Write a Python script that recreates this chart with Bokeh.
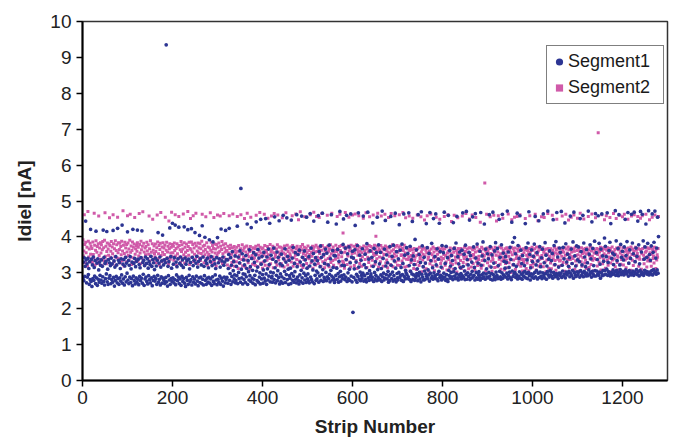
from bokeh.plotting import figure
from bokeh.models import FixedTicker, Legend, LegendItem
from bokeh.embed import file_html
from bokeh.resources import INLINE

# Leakage current per strip, in units of 0.01 nA (one row = 20 consecutive strips)
seg1_centi_nA = [
    285, 330, 278, 342, 290, 318, 444, 336, 272, 325, 288, 340, 295, 312, 268, 331, 281, 421, 276, 338,
    262, 322, 284, 344, 279, 315, 291, 334, 270, 416, 286, 327, 265, 339, 282, 308, 274, 330, 293, 321,
    280, 336, 271, 318, 289, 419, 276, 343, 266, 326, 284, 332, 297, 415, 275, 310, 268, 337, 285, 328,
    292, 320, 270, 341, 281, 325, 274, 418, 287, 333, 263, 316, 279, 345, 290, 322, 272, 424, 284, 335,
    268, 329, 286, 312, 277, 339, 294, 433, 271, 324, 283, 337, 266, 319, 289, 343, 275, 327, 299, 414,
    280, 334, 270, 321, 288, 345, 273, 311, 284, 330, 264, 421, 291, 326, 278, 340, 269, 317, 286, 332,
    274, 419, 282, 338, 267, 323, 290, 314, 278, 342, 285, 417, 271, 329, 296, 335, 265, 320, 283, 344,
    288, 326, 276, 339, 269, 313, 292, 331, 281, 323, 272, 346, 286, 318, 264, 337, 279, 328, 290, 309,
    277, 341, 284, 319, 268, 335, 293, 412, 274, 327, 282, 344, 266, 316, 289, 333, 271, 405, 285, 322,
    279, 336, 270, 328, 287, 935, 275, 340, 263, 318, 292, 331, 280, 425, 268, 345, 284, 313, 276, 438,
    286, 324, 272, 342, 281, 433, 267, 330, 294, 317, 278, 339, 288, 427, 270, 326, 283, 344, 265, 321,
    290, 336, 276, 315, 284, 428, 271, 341, 262, 324, 287, 333, 279, 420, 268, 338, 293, 311, 275, 329,
    281, 423, 266, 343, 289, 320, 274, 335, 283, 412, 269, 327, 291, 346, 277, 316, 264, 332, 286, 404,
    273, 339, 288, 322, 270, 431, 282, 344, 266, 318, 292, 399, 279, 334, 268, 326, 285, 341, 274, 314,
    287, 392, 271, 331, 283, 345, 265, 320, 289, 386, 276, 337, 270, 325, 294, 312, 280, 342, 267, 398,
    282, 328, 274, 339, 291, 316, 268, 422, 285, 333, 277, 344, 263, 321, 288, 330, 272, 418, 281, 337,
    287, 336, 271, 312, 351, 424, 279, 298, 342, 268, 321, 290, 359, 275, 306, 331, 283, 294, 347, 272,
    278, 318, 292, 430, 270, 344, 301, 284, 328, 361, 274, 535, 310, 286, 353, 269, 297, 336, 281, 322,
    296, 273, 348, 289, 312, 436, 268, 334, 303, 280, 364, 292, 317, 276, 426, 340, 285, 307, 271, 356,
    282, 329, 293, 267, 350, 442, 305, 278, 316, 365, 274, 341, 288, 300, 269, 449, 324, 283, 346, 295,
    271, 308, 357, 285, 333, 277, 451, 297, 268, 344, 311, 280, 366, 291, 323, 438, 275, 302, 349, 286,
    290, 274, 338, 300, 369, 281, 456, 314, 272, 331, 293, 358, 278, 306, 343, 287, 445, 269, 325, 297,
    276, 352, 289, 320, 271, 460, 339, 284, 304, 367, 273, 330, 295, 453, 281, 346, 310, 268, 335, 292,
    285, 313, 270, 447, 298, 341, 279, 371, 291, 274, 326, 303, 356, 282, 272, 462, 317, 288, 351, 278,
    269, 363, 294, 330, 276, 307, 458, 286, 343, 271, 322, 299, 361, 280, 336, 292, 273, 455, 313, 283,
    297, 277, 345, 272, 319, 465, 288, 369, 281, 333, 275, 308, 354, 444, 270, 324, 293, 342, 279, 305,
    283, 334, 300, 459, 274, 359, 291, 317, 375, 279, 343, 295, 466, 309, 276, 351, 287, 326, 282, 366,
    301, 278, 355, 289, 441, 322, 284, 377, 296, 275, 339, 307, 462, 291, 280, 362, 315, 286, 348, 273,
    279, 347, 293, 436, 313, 282, 365, 298, 274, 332, 289, 471, 304, 277, 357, 292, 321, 284, 379, 450,
    294, 320, 281, 369, 288, 337, 460, 276, 353, 300, 283, 372, 310, 279, 328, 464, 291, 344, 275, 360,
    190, 341, 287, 311, 364, 432, 280, 330, 296, 274, 376, 290, 467, 316, 282, 349, 302, 278, 335, 293,
    285, 367, 299, 458, 277, 323, 292, 352, 281, 314, 275, 381, 298, 469, 286, 338, 279, 306, 361, 290,
    297, 281, 343, 288, 439, 318, 276, 368, 301, 283, 331, 293, 356, 278, 455, 309, 287, 378, 280, 325,
    282, 357, 294, 312, 276, 472, 289, 340, 299, 280, 366, 285, 446, 319, 295, 350, 283, 328, 304, 274,
    291, 278, 373, 296, 457, 321, 284, 346, 302, 277, 377, 292, 333, 281, 466, 313, 275, 359, 298, 286,
    280, 339, 301, 434, 287, 363, 293, 315, 279, 380, 295, 326, 276, 464, 290, 349, 283, 307, 300, 370,
    295, 284, 354, 289, 467, 320, 281, 374, 304, 276, 336, 297, 443, 282, 347, 294, 323, 279, 393, 291,
    286, 364, 298, 311, 278, 462, 292, 351, 301, 283, 329, 275, 470, 296, 375, 288, 317, 280, 343, 305,
    281, 327, 297, 437, 290, 370, 284, 308, 294, 354, 277, 468, 299, 334, 285, 382, 291, 314, 282, 451,
    300, 285, 345, 292, 464, 322, 283, 367, 296, 278, 338, 304, 438, 287, 359, 293, 316, 280, 376, 289,
    284, 356, 299, 469, 288, 326, 279, 374, 295, 282, 342, 276, 460, 307, 292, 362, 285, 319, 301, 348,
    289, 334, 281, 440, 303, 368, 291, 312, 284, 383, 297, 457, 286, 345, 280, 325, 294, 358, 288, 314,
    298, 283, 363, 292, 467, 318, 287, 352, 305, 281, 377, 295, 471, 282, 337, 300, 322, 290, 357, 447,
    281, 348, 296, 285, 330, 304, 456, 288, 372, 293, 315, 280, 465, 341, 301, 286, 380, 282, 327, 295,
    303, 287, 360, 280, 468, 321, 294, 347, 285, 386, 299, 289, 436, 334, 282, 366, 297, 311, 288, 353,
    286, 339, 301, 462, 291, 373, 282, 316, 298, 350, 280, 469, 295, 327, 287, 361, 281, 384, 302, 290,
    293, 368, 284, 320, 286, 449, 304, 343, 289, 282, 378, 300, 463, 285, 355, 294, 332, 291, 313, 345,
    288, 329, 299, 472, 283, 358, 292, 315, 302, 371, 286, 337, 281, 441, 305, 385, 290, 323, 297, 398,
    301, 353, 287, 318, 294, 466, 283, 376, 290, 340, 303, 459, 285, 363, 296, 326, 282, 348, 300, 291,
    290, 320, 304, 437, 286, 370, 298, 336, 284, 383, 301, 470, 292, 351, 280, 314, 297, 364, 288, 331,
    296, 346, 285, 380, 301, 457, 289, 322, 306, 356, 283, 333, 299, 445, 287, 373, 302, 317, 291, 342,
    284, 366, 300, 464, 292, 328, 286, 384, 298, 349, 282, 319, 303, 472, 294, 338, 288, 361, 307, 293,
    302, 334, 290, 354, 285, 448, 301, 376, 295, 323, 289, 387, 298, 468, 292, 344, 284, 316, 299, 369,
    293, 357, 299, 471, 287, 321, 305, 371, 291, 339, 296, 439, 286, 381, 302, 330, 294, 352, 300, 318,
    304, 342, 289, 458, 298, 366, 292, 326, 307, 386, 285, 469, 301, 347, 294, 319, 290, 375, 303, 336,
    295, 372, 302, 331, 288, 451, 306, 359, 293, 322, 300, 460, 289, 383, 304, 344, 297, 317, 291, 365,
    299, 328, 292, 472, 308, 352, 295, 378, 301, 339, 288, 442, 304, 368, 296, 320, 291, 388, 306, 465,
    291, 356, 305, 337, 297, 459, 293, 382, 302, 324, 285, 366, 300, 464, 292, 347, 307, 332, 294, 397,
    306, 374, 296, 345, 310, 467, 293, 329, 303, 362, 298, 385, 291, 437, 301, 340, 295, 355, 308, 323,
    297, 350, 303, 473, 293, 389, 307, 334, 299, 368, 292, 462, 302, 322, 309, 379, 295, 343, 300, 360,
    304, 336, 294, 372, 301, 449, 308, 348, 297, 387, 303, 468, 291, 327, 306, 364, 299, 340, 294, 463,
    299, 383, 305, 353, 293, 469, 302, 331, 298, 369, 309, 346, 295, 444, 303, 378, 291, 325, 307, 471,
    295, 358, 301, 463, 298, 389, 293, 338, 307, 372, 300, 436, 304, 343, 296, 382, 302, 473, 294, 351,
    302, 335, 297, 375, 306, 464, 294, 357, 309, 385, 300, 472, 303, 341, 296, 369, 308, 455, 299, 401,
]

seg2_centi_nA = [
    392, 347, 361, 462, 379, 328, 385, 356, 339, 371, 318, 471, 388, 344, 366, 331, 382, 352, 374, 336,
    368, 329, 386, 351, 342, 466, 377, 322, 363, 389, 335, 357, 373, 326, 381, 458, 348, 369, 338, 384,
    355, 378, 321, 364, 387, 340, 370, 333, 391, 467, 346, 374, 325, 359, 383, 337, 366, 349, 380, 453,
    376, 343, 360, 387, 324, 372, 353, 462, 381, 331, 367, 345, 389, 320, 362, 378, 341, 455, 356, 384,
    339, 365, 382, 327, 373, 350, 388, 334, 361, 473, 377, 319, 354, 385, 344, 369, 330, 379, 358, 459,
    383, 348, 366, 336, 391, 463, 357, 375, 323, 362, 386, 342, 371, 329, 380, 454, 352, 367, 338, 376,
    360, 384, 332, 371, 347, 465, 379, 355, 325, 388, 364, 341, 374, 470, 335, 382, 358, 321, 369, 350,
    373, 326, 385, 361, 340, 378, 352, 458, 367, 333, 389, 346, 357, 318, 381, 449, 363, 337, 375, 354,
    345, 380, 359, 328, 370, 461, 386, 339, 353, 376, 322, 365, 382, 468, 348, 331, 372, 357, 384, 336,
    369, 351, 377, 455, 330, 363, 385, 342, 358, 374, 324, 444, 367, 381, 338, 355, 371, 469, 346, 379,
    356, 374, 335, 383, 362, 462, 347, 368, 320, 381, 353, 372, 339, 457, 376, 344, 364, 329, 387, 359,
    378, 340, 366, 464, 350, 384, 327, 371, 357, 345, 380, 336, 362, 471, 373, 349, 385, 323, 368, 451,
    364, 386, 343, 358, 379, 459, 331, 369, 352, 382, 337, 466, 375, 346, 361, 325, 383, 355, 370, 341,
    381, 334, 367, 354, 388, 463, 345, 374, 360, 328, 377, 350, 365, 456, 339, 384, 357, 321, 372, 347,
    352, 370, 338, 467, 363, 385, 329, 358, 376, 344, 368, 454, 333, 380, 355, 366, 319, 379, 348, 461,
    371, 356, 383, 332, 360, 458, 374, 340, 365, 387, 326, 353, 378, 465, 343, 369, 358, 381, 337, 362,
    361, 322, 374, 338, 355, 459, 368, 315, 377, 343, 352, 329, 370, 464, 358, 335, 373, 318, 364, 347,
    356, 331, 371, 457, 360, 312, 376, 340, 349, 326, 367, 462, 354, 337, 378, 319, 362, 344, 369, 451,
    372, 316, 358, 336, 375, 466, 351, 328, 366, 345, 359, 311, 373, 455, 363, 341, 348, 324, 370, 339,
    357, 342, 368, 320, 374, 460, 353, 333, 365, 317, 377, 349, 360, 468, 371, 327, 355, 344, 366, 313,
    369, 330, 352, 463, 376, 321, 362, 346, 357, 335, 373, 452, 350, 318, 367, 340, 379, 325, 359, 458,
    364, 338, 374, 314, 356, 465, 370, 343, 351, 329, 366, 321, 378, 461, 358, 336, 372, 347, 354, 319,
    371, 325, 361, 453, 368, 341, 355, 316, 375, 334, 352, 467, 364, 345, 377, 322, 359, 339, 369, 312,
    353, 346, 372, 330, 363, 459, 376, 318, 358, 342, 370, 327, 349, 464, 367, 337, 374, 323, 361, 448,
    366, 333, 357, 470, 373, 320, 364, 344, 379, 315, 354, 337, 371, 456, 360, 348, 368, 326, 356, 341,
    375, 317, 362, 339, 351, 462, 369, 328, 357, 346, 374, 313, 365, 469, 372, 335, 358, 322, 377, 457,
    359, 343, 371, 326, 366, 454, 354, 339, 373, 318, 363, 465, 376, 331, 352, 347, 369, 314, 361, 336,
    370, 324, 356, 460, 374, 340, 360, 317, 367, 345, 378, 329, 353, 466, 364, 334, 372, 321, 358, 349,
    363, 338, 377, 315, 359, 457, 368, 342, 350, 327, 373, 463, 362, 319, 376, 345, 355, 332, 411, 328,
    372, 313, 357, 468, 366, 336, 371, 323, 352, 347, 375, 455, 361, 330, 368, 316, 377, 343, 354, 461,
    360, 341, 374, 320, 355, 464, 369, 334, 378, 312, 364, 349, 357, 459, 372, 326, 361, 338, 370, 318,
    356, 345, 368, 452, 375, 322, 362, 337, 353, 467, 371, 315, 366, 343, 358, 329, 376, 456, 363, 340,
    373, 319, 359, 335, 369, 461, 354, 348, 377, 324, 365, 402, 351, 339, 374, 466, 360, 316, 367, 344,
    362, 331, 376, 458, 357, 342, 370, 318, 366, 350, 352, 463, 375, 327, 363, 336, 371, 314, 358, 454,
    369, 346, 355, 323, 374, 465, 361, 339, 378, 317, 364, 344, 353, 459, 372, 330, 359, 347, 376, 321,
    357, 335, 371, 462, 363, 320, 375, 348, 350, 333, 368, 468, 362, 341, 377, 316, 355, 453, 370, 338,
    351, 318, 366, 337, 345, 458, 362, 305, 370, 329, 348, 342, 364, 452, 355, 312, 368, 334, 343, 323,
    362, 309, 349, 461, 367, 331, 353, 320, 371, 340, 346, 456, 358, 303, 365, 336, 352, 316, 369, 447,
    347, 327, 363, 311, 356, 459, 370, 338, 344, 304, 361, 325, 354, 464, 366, 333, 350, 319, 372, 341,
    358, 306, 368, 332, 346, 455, 363, 318, 352, 339, 369, 301, 357, 449, 365, 326, 343, 335, 371, 313,
    364, 340, 351, 457, 367, 321, 348, 330, 372, 308, 355, 462, 360, 337, 345, 315, 369, 328, 353, 443,
    349, 323, 366, 310, 357, 460, 370, 336, 344, 327, 362, 302, 354, 453, 368, 341, 350, 317, 364, 334,
    368, 312, 352, 458, 363, 329, 347, 339, 371, 305, 359, 465, 345, 324, 366, 336, 356, 311, 370, 450,
    355, 338, 369, 316, 348, 461, 364, 326, 351, 342, 367, 307, 358, 454, 343, 331, 372, 320, 361, 337,
    346, 325, 365, 441, 359, 313, 371, 334, 352, 321, 366, 339, 348, 550, 363, 306, 357, 463, 369, 328,
    361, 341, 350, 319, 368, 456, 354, 332, 370, 304, 345, 337, 364, 460, 357, 315, 371, 329, 349, 444,
    366, 317, 358, 459, 347, 338, 372, 324, 353, 310, 369, 333, 344, 452, 362, 340, 356, 308, 367, 326,
    352, 335, 370, 314, 363, 464, 346, 328, 365, 339, 357, 301, 371, 448, 350, 322, 368, 336, 359, 455,
    369, 309, 355, 340, 348, 457, 366, 323, 360, 331, 372, 462, 345, 318, 364, 337, 351, 305, 367, 329,
    356, 337, 364, 451, 370, 312, 349, 327, 362, 343, 353, 306, 368, 459, 358, 320, 346, 334, 371, 316,
    363, 326, 347, 341, 367, 463, 355, 308, 372, 332, 350, 445, 361, 319, 369, 338, 344, 324, 365, 456,
    348, 340, 370, 317, 357, 454, 364, 330, 353, 303, 366, 336, 351, 465, 368, 313, 359, 342, 346, 327,
    367, 311, 354, 460, 362, 339, 349, 322, 371, 334, 356, 307, 365, 449, 352, 338, 369, 318, 358, 333,
    353, 336, 368, 320, 346, 458, 363, 329, 357, 341, 370, 304, 349, 463, 366, 325, 355, 337, 372, 447,
    364, 314, 351, 337, 369, 455, 358, 326, 345, 340, 367, 461, 360, 310, 371, 333, 348, 321, 362, 452,
    350, 339, 366, 305, 359, 466, 347, 331, 370, 318, 354, 342, 365, 450, 357, 327, 368, 336, 352, 312,
    369, 328, 356, 457, 364, 315, 348, 339, 372, 323, 361, 464, 346, 335, 367, 306, 355, 340, 363, 453,
    354, 337, 368, 319, 351, 690, 365, 330, 358, 342, 371, 308, 347, 462, 362, 325, 369, 338, 353, 448,
    366, 313, 349, 459, 363, 334, 370, 321, 356, 341, 344, 454, 368, 327, 359, 303, 372, 336, 350, 465,
    357, 339, 365, 317, 352, 451, 369, 329, 347, 343, 364, 309, 371, 460, 355, 324, 361, 337, 348, 456,
    370, 322, 358, 463, 346, 336, 367, 314, 360, 340, 352, 449, 369, 326, 357, 343, 364, 307, 372, 458,
    351, 335, 366, 320, 359, 462, 348, 331, 371, 304, 363, 341, 354, 457, 368, 318, 345, 338, 365, 452,
    364, 310, 353, 459, 368, 337, 349, 325, 372, 342, 357, 463, 361, 316, 370, 333, 346, 339, 367, 448,
    356, 332, 369, 318, 352, 455, 365, 340, 347, 327, 371, 461, 360, 312, 366, 336, 350, 343, 368, 457,
]

series_names = ["Segment1", "Segment2"]
x_ticks = [0, 200, 400, 600, 800, 1000, 1200]
y_ticks = [0, 1, 2, 3, 4, 5, 6, 7, 8, 9, 10]

strips1 = list(range(1, len(seg1_centi_nA) + 1))
strips2 = list(range(1, len(seg2_centi_nA) + 1))
seg1_nA = [v / 100 for v in seg1_centi_nA]
seg2_nA = [v / 100 for v in seg2_centi_nA]

BLUE = "#2c3593"
PINK = "#d05aa9"
FONT = "Liberation Sans"

p = figure(width=678, height=444, x_range=(0, 1300), y_range=(0, 10),
           output_backend="svg", toolbar_location=None,
           min_border_left=82, min_border_right=11, min_border_top=21, min_border_bottom=64,
           background_fill_color="white", border_fill_color="white")

r2 = p.scatter(strips2, seg2_nA, marker="square", size=3, fill_color=PINK, line_color=None)
r1 = p.scatter(strips1, seg1_nA, marker="circle", size=3.7, fill_color=BLUE, line_color=None)

p.grid.visible = False
p.outline_line_color = "#333333"
p.outline_line_width = 1.5

p.xaxis.ticker = FixedTicker(ticks=x_ticks)
p.yaxis.ticker = FixedTicker(ticks=y_ticks)
p.axis.minor_tick_line_color = None
p.axis.major_tick_in = 0
p.axis.major_tick_out = 6
p.axis.major_tick_line_color = "black"
p.axis.major_tick_line_width = 1.5
p.axis.axis_line_color = "black"
p.axis.axis_line_width = 2
p.axis.major_label_text_font = FONT
p.axis.major_label_text_font_size = "19px"
p.axis.major_label_text_color = "#222222"
p.axis.axis_label_text_font = FONT
p.axis.axis_label_text_font_size = "19px"
p.axis.axis_label_text_font_style = "bold"
p.axis.axis_label_text_color = "#222222"

p.xaxis.axis_label = "Strip Number"
p.yaxis.axis_label = "Idiel [nA]"
p.xaxis.major_label_standoff = 4
p.xaxis.axis_label_standoff = 9
p.yaxis.major_label_standoff = 5
p.yaxis.axis_label_standoff = 12

legend = Legend(items=[LegendItem(label=series_names[0], renderers=[r1]),
                       LegendItem(label=series_names[1], renderers=[r2])],
                location=(464, 276), margin=0, padding=3, spacing=1,
                glyph_width=18, glyph_height=25, label_height=25, label_width=92,
                label_standoff=0,
                label_text_font=FONT, label_text_font_size="18px", label_text_color="#1a1a1a",
                border_line_color="black", border_line_width=1,
                background_fill_color="white", background_fill_alpha=1.0)
p.add_layout(legend)

open("out.html", "w").write(file_html(p, INLINE))
